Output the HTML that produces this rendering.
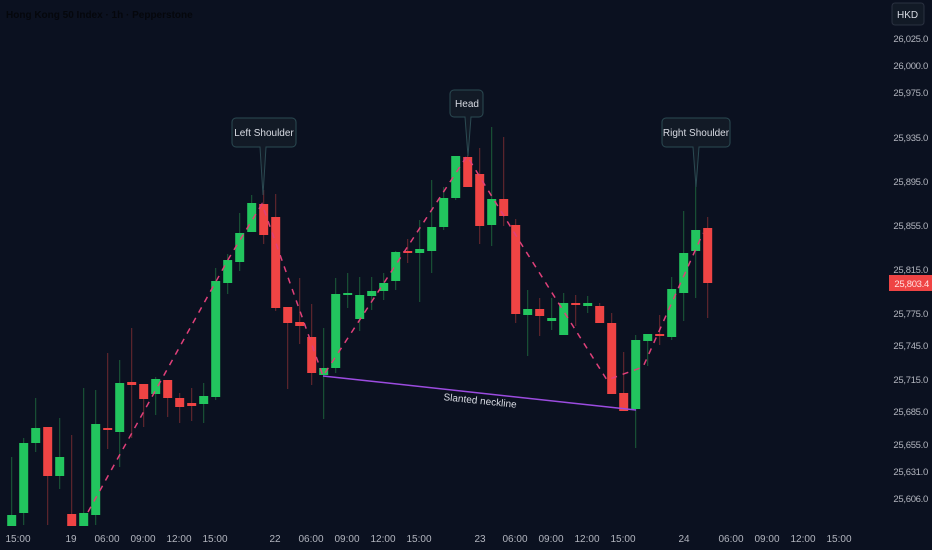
<!DOCTYPE html>
<html><head><meta charset="utf-8"><style>
html,body{margin:0;padding:0;background:#0b1120;}
svg{display:block}
text{font-family:"Liberation Sans",sans-serif;}
</style></head><body>
<svg id="s" width="932" height="550" viewBox="0 0 932 550" xmlns="http://www.w3.org/2000/svg">
<rect width="932" height="550" fill="#0b1120"/>
<text x="6" y="18" font-size="10" fill="#05070c" font-weight="bold">Hong Kong 50 Index · 1h · Pepperstone</text>
<g id="c"></g>
<polyline points="88,512 229,258 262,204 323,376 467,156 520,242 607,380 643,367 703,233" fill="none" stroke="#e0407a" stroke-width="1.5" stroke-dasharray="6,6"/>
<line x1="323" y1="376" x2="636" y2="410" stroke="#9c4ce0" stroke-width="1.5"/>
<text x="480" y="404" font-size="10" fill="#d8dbe3" text-anchor="middle" transform="rotate(6 480 402)">Slanted neckline</text>
<g font-size="10" fill="#d8dbe3" text-anchor="middle">
<path d="M236 118 h56 a4 4 0 0 1 4 4 v21 a4 4 0 0 1 -4 4 h-26 l-3 48 l-3 -48 h-24 a4 4 0 0 1 -4 -4 v-21 a4 4 0 0 1 4 -4z" fill="#121a26" stroke="#2b4a52"/>
<text x="264" y="136">Left Shoulder</text>
<path d="M454 90 h25 a4 4 0 0 1 4 4 v19 a4 4 0 0 1 -4 4 h-8 l-3 39 l-3 -39 h-11 a4 4 0 0 1 -4 -4 v-19 a4 4 0 0 1 4 -4z" fill="#121a26" stroke="#2b4a52"/>
<text x="467" y="107">Head</text>
<path d="M666 118 h60 a4 4 0 0 1 4 4 v21 a4 4 0 0 1 -4 4 h-27 l-3 40 l-3 -40 h-27 a4 4 0 0 1 -4 -4 v-21 a4 4 0 0 1 4 -4z" fill="#121a26" stroke="#2b4a52"/>
<text x="696" y="136">Right Shoulder</text>
</g>
<rect x="892" y="3" width="32" height="22" rx="3" fill="#121a26" stroke="#2a3140"/>
<text x="897" y="18" font-size="10" fill="#d8dbe3">HKD</text>
<g id="ya" font-size="9.5" fill="#b2b5be" text-anchor="end" letter-spacing="-0.3"></g>
<rect x="889" y="275" width="43" height="16" fill="#ef4444"/>
<text x="929" y="287" font-size="9.5" fill="#ffe0e0" text-anchor="end" letter-spacing="-0.3">25,803.4</text>
<g id="xa" font-size="10" fill="#b2b5be" text-anchor="middle"></g>
</svg>
<script>
var d=[[515,526,457,526,1],[443,513,438,525,1],[428,443,398,452,1],[427,476,427,525,0],[457,476,418,489,1],[514,526,435,526,0],[513,526,388,526,1],[424,515,390,525,1],[428,430,353,449,0],[383,432,360,467,1],[382,385,328,438,0],[384,399,384,427,0],[379,394,377,415,1],[380,398,380,417,0],[398,407,393,423,0],[403,406,388,421,0],[396,404,383,423,1],[281,397,268,400,1],[260,283,254,294,1],[233,262,213,271,1],[203,232,195,232,1],[204,235,190,244,0],[217,308,194,311,0],[307,323,307,389,0],[322,326,278,344,0],[337,373,304,385,0],[368,375,328,419,1],[294,368,278,373,1],[293,294,273,308,1],[295,319,277,331,1],[291,296,277,310,1],[283,291,273,300,1],[252,281,251,290,1],[251,252,239,263,0],[249,253,220,302,1],[227,251,180,273,1],[198,227,187,230,1],[156,198,156,200,1],[157,187,155,187,0],[174,226,148,244,0],[199,225,127,246,1],[199,216,137,226,0],[225,314,219,323,0],[309,315,290,356,1],[309,316,298,336,0],[318,321,298,330,1],[303,335,293,335,1],[303,305,295,326,0],[303,306,296,313,1],[306,323,303,323,0],[323,394,313,394,0],[393,411,352,411,0],[340,409,335,448,1],[334,341,334,366,1],[334,335,315,345,0],[289,337,277,340,1],[253,293,211,321,1],[230,251,180,298,1],[228,283,217,318,0]];
var g=document.getElementById("c"),h="";
d.forEach(function(c,i){var x=11.7+12*i,G=c[4],col=G?"#22c55e":"#ef4444",wc=G?"#1b5e3a":"#6e2a30";
h+='<line x1="'+x+'" x2="'+x+'" y1="'+c[2]+'" y2="'+c[3]+'" stroke="'+wc+'" stroke-width="1"/>';
var t=c[0],b=Math.max(c[1],c[0]+2);h+='<rect x="'+(x-4.5)+'" y="'+t+'" width="9" height="'+(b-t)+'" fill="'+col+'"/>';});
g.innerHTML=h;
var y=[["26,025.0",38],["26,000.0",65],["25,975.0",92],["25,935.0",137],["25,895.0",181],["25,855.0",225],["25,815.0",269],["25,775.0",313],["25,745.0",345],["25,715.0",379],["25,685.0",411],["25,655.0",444],["25,631.0",471],["25,606.0",498]],s="";
y.forEach(function(a){s+='<text x="928" y="'+(a[1]+4)+'">'+a[0]+'</text>';});document.getElementById("ya").innerHTML=s;
var x=[["15:00",18],["19",71],["06:00",107],["09:00",143],["12:00",179],["15:00",215],["22",275],["06:00",311],["09:00",347],["12:00",383],["15:00",419],["23",480],["06:00",515],["09:00",551],["12:00",587],["15:00",623],["24",684],["06:00",731],["09:00",767],["12:00",803],["15:00",839]];s="";
x.forEach(function(a){s+='<text x="'+a[1]+'" y="542">'+a[0]+'</text>';});document.getElementById("xa").innerHTML=s;
</script>
</body></html>
